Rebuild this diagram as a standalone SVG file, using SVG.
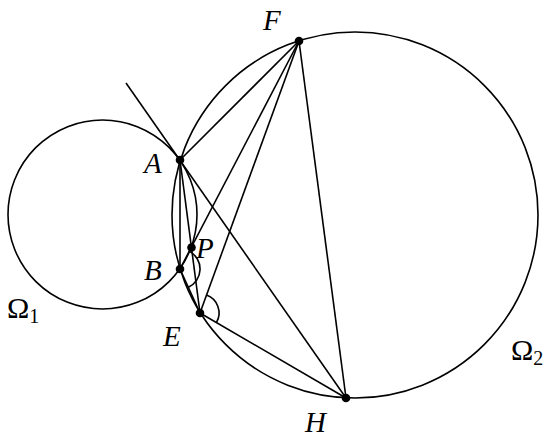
<svg xmlns="http://www.w3.org/2000/svg" width="550" height="440" viewBox="0 0 550 440">
<style>
.c{fill:none;stroke:#000;stroke-width:1.6}
.l{stroke:#000;stroke-width:1.6;fill:none}
.d{fill:#000}
.t{font-family:"Liberation Serif",serif;font-style:italic;font-size:29px;fill:#000}
.o{font-family:"Liberation Serif",serif;font-size:30px;fill:#000}
.s{font-size:20px}
</style>
<rect width="550" height="440" fill="#fff"/>
<g id="omega1"><circle class="c" cx="102.5" cy="214.5" r="94.5"/></g>
<g id="omega2"><circle class="c" cx="355" cy="215" r="183"/></g>
<g id="connectors">
<line class="l" x1="126" y1="83" x2="346" y2="398"/>
<line class="l" x1="180" y1="160" x2="299" y2="41"/>
<line class="l" x1="180" y1="160" x2="180" y2="269"/>
<line class="l" x1="180" y1="160" x2="200" y2="313"/>
<line class="l" x1="299" y1="41" x2="180" y2="269"/>
<line class="l" x1="299" y1="41" x2="200" y2="313"/>
<line class="l" x1="299" y1="41" x2="346" y2="398"/>
<line class="l" x1="180" y1="269" x2="200" y2="313"/>
<line class="l" x1="200" y1="313" x2="346" y2="398"/>
<path class="l" d="M189.5,251.4 A20,20 0 0 1 188.4,287.2"/>
<path class="l" d="M206.5,295.1 A19,19 0 0 1 216.4,322.6"/>
</g>
<g id="A"><circle class="d" cx="180" cy="160" r="4.3"/><text class="t" x="144" y="173">A</text></g>
<g id="B"><circle class="d" cx="180" cy="269" r="4.3"/><text class="t" x="144" y="280">B</text></g>
<g id="P"><circle class="d" cx="191.5" cy="247.5" r="4.3"/><text class="t" x="196" y="258">P</text></g>
<g id="E"><circle class="d" cx="200" cy="313" r="4.3"/><text class="t" x="163" y="346">E</text></g>
<g id="F"><circle class="d" cx="299" cy="41" r="4.3"/><text class="t" x="263" y="30">F</text></g>
<g id="H"><circle class="d" cx="346" cy="398" r="4.3"/><text class="t" x="305" y="432">H</text></g>
<g id="label-omega1"><text class="o" x="7" y="318">Ω<tspan class="s" dy="5">1</tspan></text></g>
<g id="label-omega2"><text class="o" x="511" y="360">Ω<tspan class="s" dy="5">2</tspan></text></g>
</svg>
